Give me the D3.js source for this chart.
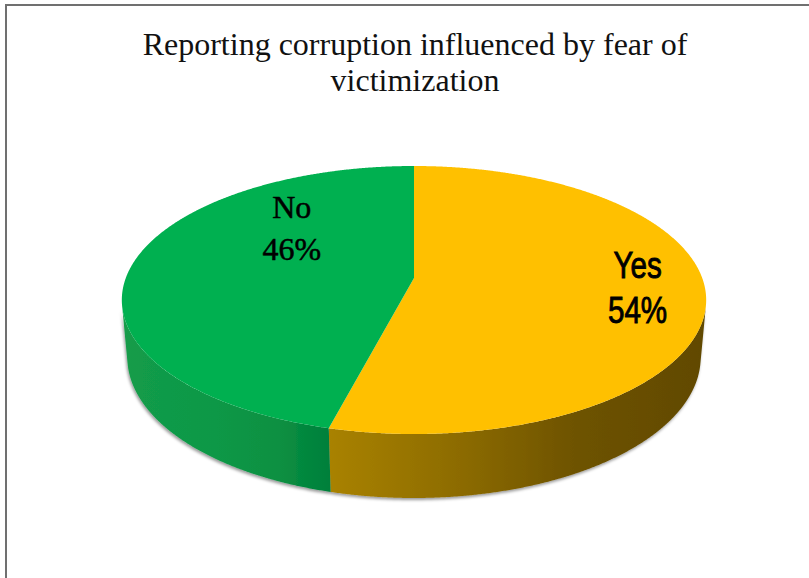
<!DOCTYPE html>
<html>
<head>
<meta charset="utf-8">
<script src="https://cdn.jsdelivr.net/npm/d3@7"></script>
<style>
  html, body { margin: 0; padding: 0; background: #fff; }
  svg { display: block; }
</style>
</head>
<body>
<script>
// ---- data ----
const categories = ["Yes", "No"];
const shares = [54, 46];
const topColors = ["#FFC000", "#00B050"];
const sideColors = [
  ["#A98200", "#8C6B00", "#6E5300", "#614900"],
  ["#139C4A", "#0E9846", "#0A9042", "#007F3A"]
];
const titleLines = ["Reporting corruption influenced by fear of", "victimization"];

// ---- layout ----
const W = 809, H = 578;
const svg = d3.select("body").append("svg").attr("width", W).attr("height", H);

// chart frame (runs past the right and bottom edges)
svg.append("rect")
  .attr("x", 6).attr("y", 5)
  .attr("width", W + 20).attr("height", H + 20)
  .attr("fill", "#fff").attr("stroke", "#707070").attr("stroke-width", 2);

// title
svg.append("g").selectAll("text").data(titleLines).join("text")
  .attr("x", 415).attr("y", (d, i) => 55 + i * 36)
  .attr("text-anchor", "middle")
  .attr("font-family", "'Liberation Serif', 'Times New Roman', serif")
  .attr("font-size", 32).attr("fill", "#111")
  .text(d => d);

// ---- perspective camera for the 3-D pie ----
const cx = 414, cy = 278;          // screen position of the top-face centre
const R = 1, D0 = 5.43, f = 1565;  // radius, camera distance, focal length
const tilt = 26.9 * Math.PI / 180;
const sa = Math.sin(tilt), cb = Math.cos(tilt);
const thick = 0.224;               // pie height

// theta: clockwise from the far point, rho: radius fraction, y: height (0 = top face)
function project(theta, rho, y) {
  const X = rho * R * Math.sin(theta), Z = -rho * R * Math.cos(theta);
  const up = y * cb - Z * sa;
  const depth = D0 - y * sa - Z * cb;
  return [cx + f * X / depth, cy - f * up / depth];
}

// silhouette angle of the cylinder wall
const thetaS = Math.acos(-R / (D0 * cb));

const pie = d3.pie().sort(null).value(d => d);
const arcs = pie(shares);
const line = d3.line();
const step = Math.PI / 720;

function arcPoints(a0, a1, y) {
  const n = Math.max(2, Math.ceil(Math.abs(a1 - a0) / step));
  return d3.range(n + 1).map(i => project(a0 + (a1 - a0) * i / n, 1, y));
}

const defs = svg.append("defs");
const shadow = defs.append("filter").attr("id", "wallShadow")
  .attr("x", "-10%").attr("y", "-10%").attr("width", "120%").attr("height", "130%");
shadow.append("feDropShadow")
  .attr("dx", -1).attr("dy", 2).attr("stdDeviation", 1.6)
  .attr("flood-color", "#000").attr("flood-opacity", 0.4);

// side walls
const walls = svg.append("g").attr("filter", "url(#wallShadow)");
arcs.forEach((a, i) => {
  const a0 = Math.max(a.startAngle, thetaS);
  const a1 = Math.min(a.endAngle, 2 * Math.PI - thetaS);
  if (a1 <= a0) return;
  const topPts = arcPoints(a0, a1, 0);
  const botPts = arcPoints(a1, a0, -thick);
  const xs = topPts.concat(botPts).map(p => p[0]);
  const xMin = d3.min(xs), xMax = d3.max(xs);
  // shading runs from the lit (left) side to the shadowed (right) side
  const grad = defs.append("linearGradient")
    .attr("id", "side" + i).attr("gradientUnits", "userSpaceOnUse")
    .attr("x1", xMin).attr("x2", xMax).attr("y1", 0).attr("y2", 0);
  const stops = i === 0 ? [0, 0.35, 0.65, 1] : [0, 0.45, 0.75, 1];
  grad.selectAll("stop").data(sideColors[i]).join("stop")
    .attr("offset", (d, k) => stops[k]).attr("stop-color", d => d);
  walls.append("path")
    .attr("d", line(topPts.concat(botPts)) + "Z")
    .attr("fill", `url(#side${i})`);
});

// top faces
const tops = svg.append("g");
arcs.forEach((a, i) => {
  const pts = [project(0, 0, 0)].concat(arcPoints(a.startAngle, a.endAngle, 0));
  tops.append("path")
    .attr("d", line(pts) + "Z")
    .attr("fill", topColors[i]);
});

// data labels (anchor in pie space: angle in degrees, radius fraction)
const labelAnchors = [
  { angle: 95.1, rho: 0.77, font: "'Liberation Sans', Arial, sans-serif", size: 37, gap: 45, cap: 26.6, sx: 0.8, weight: 0.9 },
  { angle: 312.1, rho: 0.61, font: "'Liberation Serif', 'Times New Roman', serif", size: 32, gap: 42, cap: 21.6, sx: 1, weight: 0.5 }
];
arcs.forEach((a, i) => {
  const L = labelAnchors[i];
  const p = project(L.angle * Math.PI / 180, L.rho, 0);
  const g = svg.append("g").attr("transform", `translate(${p[0]},${p[1]}) scale(${L.sx},1)`);
  const lines = [categories[i], shares[i] + "%"];
  g.selectAll("text").data(lines).join("text")
    .attr("x", 0)
    .attr("y", (d, k) => (k === 0 ? -L.gap / 2 : L.gap / 2) + L.cap / 2)
    .attr("text-anchor", "middle")
    .attr("font-family", L.font).attr("font-size", L.size)
    .attr("fill", "#000")
    .attr("stroke", "#000").attr("stroke-width", L.weight)
    .text(d => d);
});
</script>
</body>
</html>
